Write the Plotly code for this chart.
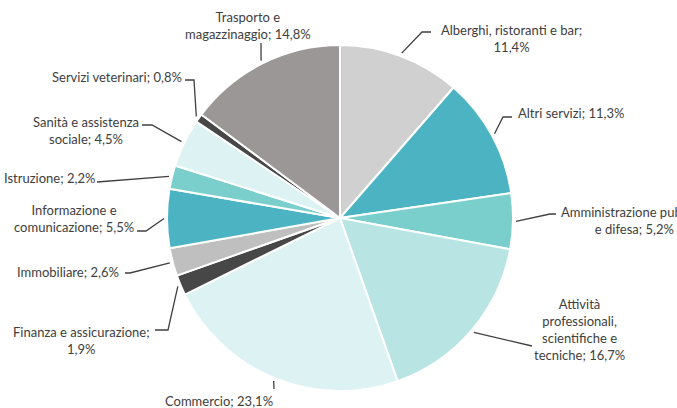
import math
import plotly.graph_objects as go

# Data (share of units by sector, %)
sectors = [
    "Alberghi, ristoranti e bar",
    "Altri servizi",
    "Amministrazione pubblica e difesa",
    "Attività professionali, scientifiche e tecniche",
    "Commercio",
    "Finanza e assicurazione",
    "Immobiliare",
    "Informazione e comunicazione",
    "Istruzione",
    "Sanità e assistenza sociale",
    "Servizi veterinari",
    "Trasporto e magazzinaggio",
]
values = [11.4, 11.3, 5.2, 16.7, 23.1, 1.9, 2.6, 5.5, 2.2, 4.5, 0.8, 14.8]
label_text = [
    "Alberghi, ristoranti e bar;<br>11,4%",
    "Altri servizi; 11,3%",
    "Amministrazione pubblica<br>e difesa; 5,2%",
    "Attività<br>professionali,<br>scientifiche e<br>tecniche; 16,7%",
    "Commercio; 23,1%",
    "Finanza e assicurazione;<br>1,9%",
    "Immobiliare; 2,6%",
    "Informazione e<br>comunicazione; 5,5%",
    "Istruzione; 2,2%",
    "Sanità e assistenza<br>sociale; 4,5%",
    "Servizi veterinari; 0,8%",
    "Trasporto e<br>magazzinaggio; 14,8%",
]
colors = [
    "#d0d0d0", "#4bb3c1", "#7acfcd", "#b8e4e3", "#dcf2f3", "#474747",
    "#c0bfbf", "#4bb3c1", "#7acfcd", "#dcf2f3", "#474747", "#9b9796",
]

# Layout (pixels): pie centre/radius and label placement
W, H = 677, 408
cx, cy, r = 340, 218, 173
# text centre, elbow point, line end
label_pos = [
    ((511, 38), (422, 32), (431, 32)),
    ((571, 113), (503, 117), (512, 117)),
    ((634, 220), (550, 214), (556, 214)),
    ((579, 329), (529, 346), (532, 346)),
    ((219, 401), (274, 389), (274, 389)),
    ((81, 340), (168, 330), (155, 330)),
    ((68, 272), (130, 273), (125, 273)),
    ((74, 218), (146, 231), (137, 231)),
    ((49, 178), (98, 182), (97, 182)),
    ((86, 130), (152, 125), (142, 125)),
    ((117, 77), (194, 80), (185, 80)),
    ((248, 25), (261, 43), (261, 43)),
]

fig = go.Figure()

fig.add_trace(go.Pie(
    labels=sectors,
    values=values,
    sort=False,
    direction="clockwise",
    rotation=0,
    marker=dict(colors=colors, line=dict(color="white", width=2)),
    textinfo="none",
    hoverinfo="label+percent",
    showlegend=False,
    domain=dict(x=[(cx - r) / W, (cx + r) / W],
                y=[(H - cy - r) / H, (H - cy + r) / H]),
))

# Leader lines from slice mid-angle to the label
total = sum(values)
cum = 0
for v, txt, (tpos, elbow, end) in zip(values, label_text, label_pos):
    mid = (cum + v / 2) / total * 2 * math.pi
    cum += v
    ex = cx + (r + 3) * math.sin(mid)
    ey = cy - (r + 3) * math.cos(mid)
    fig.add_trace(go.Scatter(
        x=[ex, elbow[0], end[0]],
        y=[ey, elbow[1], end[1]],
        mode="lines",
        line=dict(color="#404040", width=1.3),
        hoverinfo="skip",
        showlegend=False,
    ))
    fig.add_annotation(
        x=tpos[0], y=tpos[1], xref="x", yref="y",
        text=txt, showarrow=False, align="center",
        font=dict(family="Lato", size=13, color="#404040"),
    )

fig.update_layout(
    width=W,
    height=H,
    margin=dict(l=0, r=0, t=0, b=0),
    plot_bgcolor="white",
    paper_bgcolor="white",
)
fig.update_xaxes(range=[0, W], visible=False, fixedrange=True)
fig.update_yaxes(range=[H, 0], visible=False, fixedrange=True)

# page body has a default margin; remove it so the figure fills the window
fig.write_html(
    "out.html",
    config={"displayModeBar": False},
    post_script="document.body.style.margin='0';",
)
